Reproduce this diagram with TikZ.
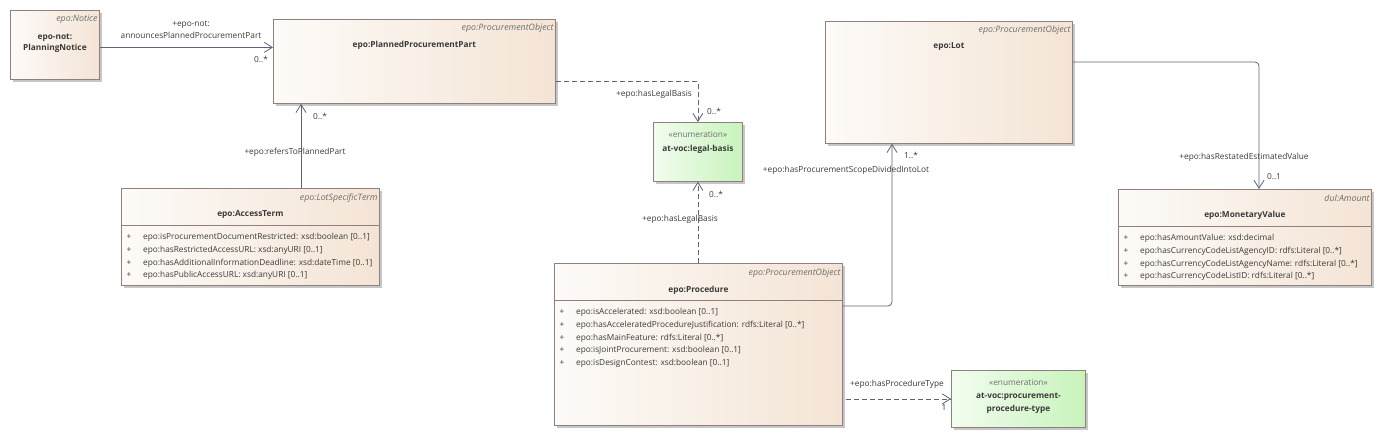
\documentclass[tikz,border=0pt]{standalone}
\usepackage{fontspec}
\setmainfont{Open Sans}
\usetikzlibrary{positioning,arrows.meta,shadows}

\definecolor{clsline}{HTML}{8F7F7F}
\definecolor{clsL}{HTML}{FDFBF8}
\definecolor{clsR}{HTML}{F4E4D5}
\definecolor{enumL}{HTML}{F2FDEF}
\definecolor{enumR}{HTML}{C8F3BC}
\definecolor{conn}{HTML}{5C6478}
\definecolor{txt}{HTML}{3A3A3A}
\definecolor{stxt}{HTML}{6E6E6E}

\newcommand{\attr}[1]{\makebox[16.5pt][l]{+}#1}

\begin{document}
\begin{tikzpicture}[
      x=1pt, y=-1pt,
      every node/.style={font=\fontsize{8.3}{12.8}\selectfont, text=txt},
      cls/.style={draw=clsline, line width=0.8pt, left color=clsL, right color=clsR, anchor=north west, inner sep=0pt,
        drop shadow={shadow xshift=2.5pt, shadow yshift=-2.5pt, fill=black!22, opacity=1}},
      enum/.style={cls, left color=enumL, right color=enumR},
      stereo/.style={anchor=base east, inner sep=0pt, text=stxt, font=\fontsize{8.8}{9}\selectfont\itshape},
      clsname/.style={anchor=base, inner sep=0pt, font=\fontsize{8.3}{9}\selectfont\bfseries},
      enumtag/.style={anchor=base, inner sep=0pt, text=stxt},
      attrs/.style={anchor=north west, inner sep=0pt, align=left},
      sepline/.style={draw=clsline, line width=0.8pt},
      assoc/.style={draw=conn, line width=0.8pt, -{Straight Barb[length=8pt,width=10pt]}},
      dep/.style={assoc, dash pattern=on 5pt off 3pt},
      lbl/.style={inner sep=1pt, text=txt}
    ]

    \fill[white] (0,0) rectangle (1379,436);
    \useasboundingbox (0,0) rectangle (1379,436);

    % Top row: notice, planned part, lot
    \node[cls, minimum width=89pt, minimum height=69pt] (notice) at (10,10) {};
    \node[stereo] (notice-st) at ([xshift=-2pt,yshift=-12pt]notice.north east) {epo:Notice};
    \node[clsname, anchor=center, align=center, font=\fontsize{8.3}{11.5}\selectfont\bfseries] (notice-nm)
      at ([yshift=-33pt]notice.north) {epo-not:\\PlanningNotice};

    \node[cls, minimum width=282pt, minimum height=84pt] (ppp) at (273,19) {};
    \node[stereo] (ppp-st) at ([xshift=-2pt,yshift=-12pt]ppp.north east) {epo:ProcurementObject};
    \node[clsname] (ppp-nm) at ([yshift=-29pt]ppp.north) {epo:PlannedProcurementPart};

    \node[cls, minimum width=247pt, minimum height=122pt] (lot) at (825,21) {};
    \node[stereo] (lot-st) at ([xshift=-2pt,yshift=-12pt]lot.north east) {epo:ProcurementObject};
    \node[clsname] (lot-nm) at ([yshift=-28pt]lot.north) {epo:Lot};

    % Enumerations
    \node[enum, minimum width=89pt, minimum height=59pt] (legal) at (653,122) {};
    \node[enumtag] (legal-st) at ([yshift=-15pt]legal.north) {«enumeration»};
    \node[clsname] (legal-nm) at ([yshift=-29pt]legal.north) {at-voc:legal-basis};

    \node[enum, minimum width=134pt, minimum height=57pt] (ptype) at (951,370) {};
    \node[enumtag] (ptype-st) at ([yshift=-15pt]ptype.north) {«enumeration»};
    \node[clsname, anchor=center, align=center, font=\fontsize{8.3}{12.8}\selectfont\bfseries] (ptype-nm)
      at ([yshift=-33.5pt]ptype.north) {at-voc:procurement-\\procedure-type};

    % Classes with attributes
    \node[cls, minimum width=258pt, minimum height=97pt] (acc) at (121,188) {};
    \node[stereo] (acc-st) at ([xshift=-2pt,yshift=-12pt]acc.north east) {epo:LotSpecificTerm};
    \node[clsname] (acc-nm) at ([yshift=-28pt]acc.north) {epo:AccessTerm};
    \draw[sepline] ([yshift=-37pt]acc.north west) -- ([yshift=-37pt]acc.north east);
    \node[attrs] (acc-at) at ([xshift=5.5pt,yshift=-45pt]acc.north west) {
      \attr{epo:isProcurementDocumentRestricted: xsd:boolean [0..1]}\\
      \attr{epo:hasRestrictedAccessURL: xsd:anyURI [0..1]}\\
      \attr{epo:hasAdditionalInformationDeadline: xsd:dateTime [0..1]}\\
      \attr{epo:hasPublicAccessURL: xsd:anyURI [0..1]}};

    \node[cls, minimum width=288pt, minimum height=162pt] (proc) at (554,263) {};
    \node[stereo] (proc-st) at ([xshift=-2pt,yshift=-12pt]proc.north east) {epo:ProcurementObject};
    \node[clsname] (proc-nm) at ([yshift=-29pt]proc.north) {epo:Procedure};
    \draw[sepline] ([yshift=-37pt]proc.north west) -- ([yshift=-37pt]proc.north east);
    \node[attrs] (proc-at) at ([xshift=5.5pt,yshift=-45pt]proc.north west) {
      \attr{epo:isAccelerated: xsd:boolean [0..1]}\\
      \attr{epo:hasAcceleratedProcedureJustification: rdfs:Literal [0..*]}\\
      \attr{epo:hasMainFeature: rdfs:Literal [0..*]}\\
      \attr{epo:isJointProcurement: xsd:boolean [0..1]}\\
      \attr{epo:isDesignContest: xsd:boolean [0..1]}};

    \node[cls, minimum width=253pt, minimum height=96pt] (mv) at (1118,189) {};
    \node[stereo] (mv-st) at ([xshift=-2pt,yshift=-12pt]mv.north east) {dul:Amount};
    \node[clsname] (mv-nm) at ([yshift=-28pt]mv.north) {epo:MonetaryValue};
    \draw[sepline] ([yshift=-37pt]mv.north west) -- ([yshift=-37pt]mv.north east);
    \node[attrs] (mv-at) at ([xshift=5.5pt,yshift=-45pt]mv.north west) {
      \attr{epo:hasAmountValue: xsd:decimal}\\
      \attr{epo:hasCurrencyCodeListAgencyID: rdfs:Literal [0..*]}\\
      \attr{epo:hasCurrencyCodeListAgencyName: rdfs:Literal [0..*]}\\
      \attr{epo:hasCurrencyCodeListID: rdfs:Literal [0..*]}};

    % Relationships
    \draw[assoc] ([yshift=-2.5pt]notice.east) -- ([yshift=-2.5pt]notice.east -| ppp.west);
    \node[lbl, align=center, font=\fontsize{8.3}{12}\selectfont] (l-announce) at (191,30) {+epo-not:\\announcesPlannedProcurementPart};
    \node[lbl] (m-announce) at (261,59) {0..*};

    \draw[assoc] ([xshift=180pt]acc.north west) -- ([xshift=180pt]acc.north west |- ppp.south);
    \node[lbl] (l-refers) at (295,152) {+epo:refersToPlannedPart};
    \node[lbl] (m-refers) at (320,116) {0..*};

    \draw[dep] ([yshift=22pt]ppp.south east) -| (legal.north);
    \node[lbl] (l-legal1) at (654,94) {+epo:hasLegalBasis};
    \node[lbl] (m-legal1) at (714,111) {0..*};

    \draw[dep] (proc.north -| legal.south) -- (legal.south);
    \node[lbl] (l-legal2) at (680,219) {+epo:hasLegalBasis};
    \node[lbl] (m-legal2) at (716,194) {0..*};

    \draw[assoc, rounded corners=4pt] ([yshift=-43pt]proc.north east) -| ([xshift=67pt]lot.south west);
    \node[lbl] (l-lot) at (846,170) {+epo:hasProcurementScopeDividedIntoLot};
    \node[lbl] (m-lot) at (911,155) {1..*};

    \draw[assoc, rounded corners=4pt] ([yshift=-41pt]lot.north east) -| ([xshift=141pt]mv.north west);
    \node[lbl] (l-value) at (1244,157) {+epo:hasRestatedEstimatedValue};
    \node[lbl] (m-value) at (1274,177) {0..1};

    \draw[dep] ([xshift=3pt]proc.east |- ptype.west) -- (ptype.west);
    \node[lbl] (l-ptype) at (897,384) {+epo:hasProcedureType};
    \node[lbl] (m-ptype) at (944,408) {1};

  \end{tikzpicture}
\end{document}
